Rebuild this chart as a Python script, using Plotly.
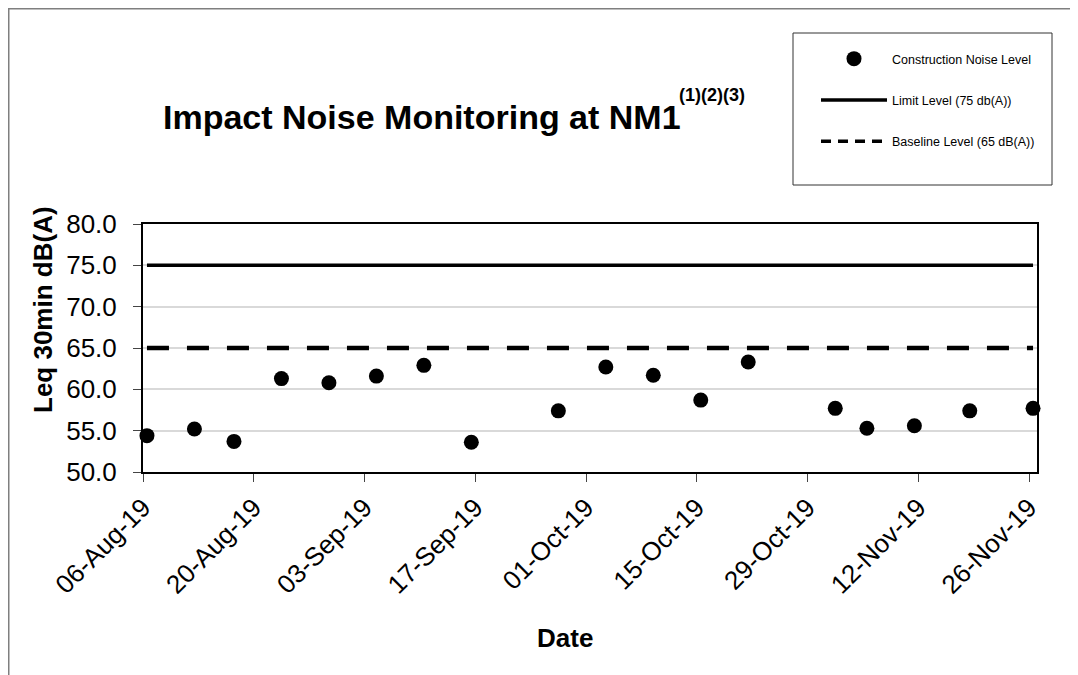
import plotly.graph_objects as go
import pandas as pd

# ---- data ----
dates = ["2019-08-06", "2019-08-12", "2019-08-17", "2019-08-23", "2019-08-29",
         "2019-09-04", "2019-09-10", "2019-09-16", "2019-09-27", "2019-10-03",
         "2019-10-09", "2019-10-15", "2019-10-21", "2019-11-01", "2019-11-05",
         "2019-11-11", "2019-11-18", "2019-11-26"]
noise_levels = [54.4, 55.2, 53.7, 61.3, 60.8, 61.6, 62.9, 53.6, 57.4, 62.7,
                61.7, 58.7, 63.3, 57.7, 55.3, 55.6, 57.4, 57.7]
limit_level = 75
baseline_level = 65
x_range = ["2019-08-06", "2019-11-27"]
y_range = [50, 80]
title_main = "Impact Noise Monitoring at NM1"
title_sup = "(1)(2)(3)"

# points sit in the middle of each day (date axis, between tick marks)
x_pts = pd.to_datetime(dates) + pd.Timedelta(hours=12)
x_line = [x_pts[0], x_pts[-1]]

OFF = 8  # page body margin
W, H = 1078 - OFF, 675 - OFF
L, R, T, B = 135, 41, 216, 203
pw, ph = W - L - R, H - T - B


def px(x):  # screen x -> paper
    return (x - OFF - L) / pw


def py(y):  # screen y -> paper
    return (H - B - (y - OFF)) / ph


FONT = "Arial, Liberation Sans, Helvetica, sans-serif"
TITLE_SIZE = 34
TITLE_EM = 15.224  # Arial Bold advance width of the main title, in em

fig = go.Figure()
fig.add_trace(go.Scatter(
    x=x_pts, y=noise_levels, mode="markers", name="Construction Noise Level",
    marker=dict(color="black", size=15, line=dict(width=0)),
    cliponaxis=False, legendgroup="a"))
fig.add_trace(go.Scatter(
    x=x_line, y=[limit_level, limit_level], mode="lines",
    name="Limit Level (75 db(A))", line=dict(color="black", width=3.5),
    legendgroup="b"))
fig.add_trace(go.Scatter(
    x=x_line, y=[baseline_level, baseline_level], mode="lines",
    name="Baseline Level (65 dB(A))",
    line=dict(color="black", width=4.5, dash="22px,18px"),
    legendgroup="c", showlegend=False))
# legend entry for the dashed baseline with a shorter dash pattern
fig.add_trace(go.Scatter(
    x=[None], y=[None], mode="lines", name="Baseline Level (65 dB(A))",
    line=dict(color="black", width=3.5, dash="10px,7px"),
    legendgroup="c", hoverinfo="skip"))

fig.update_layout(
    width=W, height=H,
    margin=dict(l=L, r=R, t=T, b=B, autoexpand=False),
    paper_bgcolor="white", plot_bgcolor="white",
    font=dict(family=FONT, color="black"),
    showlegend=True,
    legend=dict(x=px(816), y=py(44), xanchor="left", yanchor="top",
                font=dict(size=12.5, family=FONT), bgcolor="rgba(0,0,0,0)",
                borderwidth=0, tracegroupgap=22, itemwidth=66,
                traceorder="grouped"),
    xaxis=dict(type="date", range=x_range, tick0=x_range[0],
               dtick=14 * 86400000, tickformat="%d-%b-%y", tickangle=-45,
               tickfont=dict(size=26, family=FONT), ticks="outside",
               ticklen=8, tickcolor="#444", showgrid=False, showline=True,
               linecolor="black", linewidth=2, mirror=True, zeroline=False,
               ticklabelstandoff=0),
    yaxis=dict(range=y_range, dtick=5, tickformat=".1f",
               tickfont=dict(size=26, family=FONT), ticks="outside",
               ticklen=8, tickcolor="#444", showgrid=True,
               gridcolor="#d9d9d9", gridwidth=1.5, showline=True,
               linecolor="black", linewidth=2, mirror=True, zeroline=False,
               ticklabelstandoff=11),
    shapes=[
        dict(type="rect", xref="paper", yref="paper",
             x0=px(OFF + 0.75), x1=px(1090), y0=py(690), y1=py(OFF + 0.75),
             line=dict(color="#7f7f7f", width=1.5), layer="below"),
        dict(type="rect", xref="paper", yref="paper",
             x0=px(793), x1=px(1052), y0=py(185), y1=py(33),
             line=dict(color="#333", width=1)),
    ],
    annotations=[
        dict(text="<b>" + title_main + "</b>",
             xref="paper", yref="paper", x=px(161), y=py(117),
             xanchor="left", yanchor="middle", showarrow=False,
             font=dict(size=TITLE_SIZE, family=FONT)),
        dict(text="<b>" + title_sup + "</b>",
             xref="paper", yref="paper",
             x=px(163 + TITLE_EM * TITLE_SIZE - 4), y=py(95),
             xanchor="left", yanchor="middle", showarrow=False,
             font=dict(size=18, family=FONT)),
        dict(text="<b>Leq 30min dB(A)</b>", xref="paper", yref="paper",
             x=px(43), y=py(310), xanchor="center", yanchor="middle",
             textangle=-90, showarrow=False, font=dict(size=26, family=FONT)),
        dict(text="<b>Date</b>", xref="paper", yref="paper",
             x=px(565), y=py(638), xanchor="center", yanchor="middle",
             showarrow=False, font=dict(size=26, family=FONT)),
    ],
)

fig.write_html("out.html")
